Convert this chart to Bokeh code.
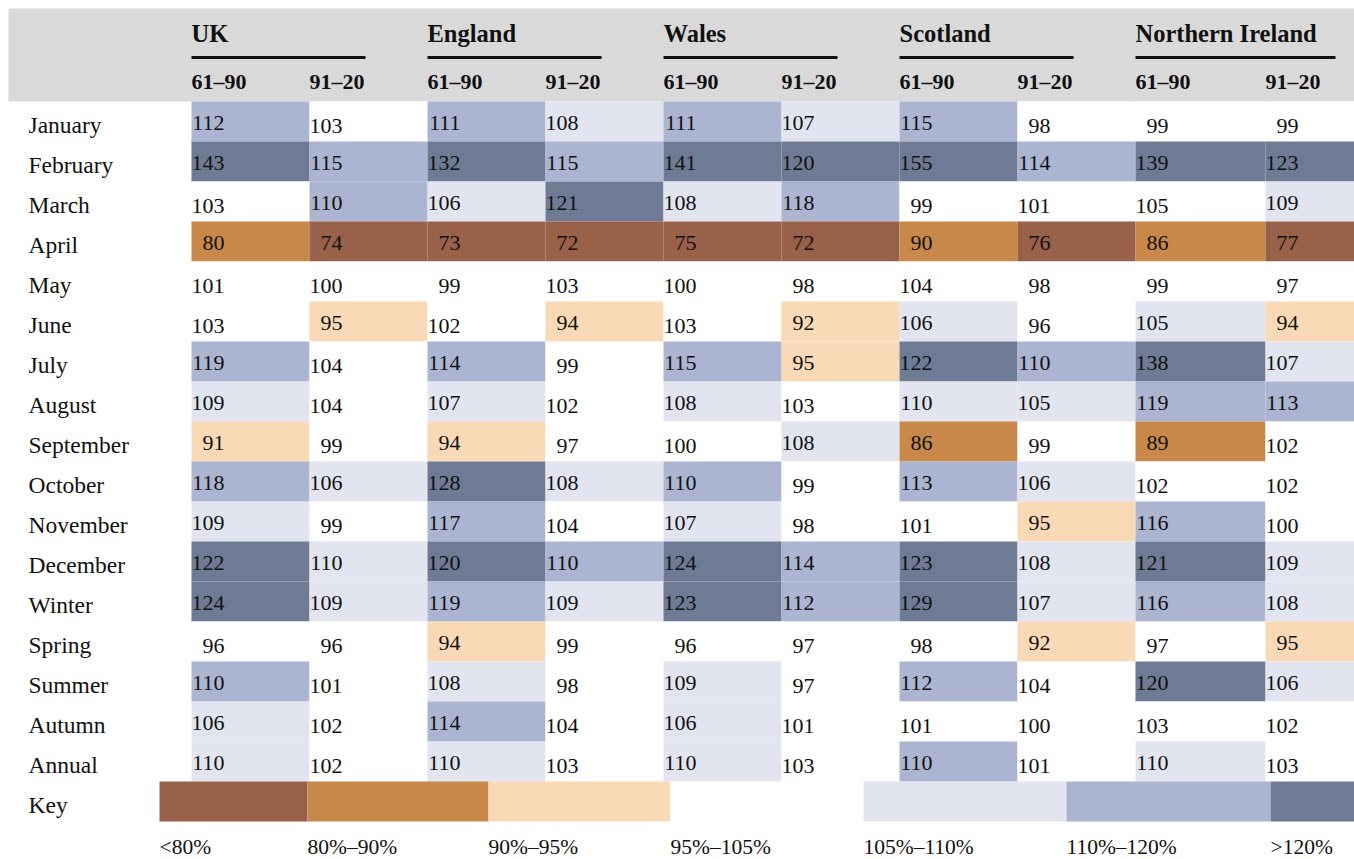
from bokeh.plotting import figure
from bokeh.models import ColumnDataSource, Range1d
from bokeh.embed import file_html
from bokeh.resources import INLINE
from bokeh.core.properties import value

# ---------------- data ----------------
rows = ["January", "February", "March", "April", "May", "June", "July", "August",
        "September", "October", "November", "December", "Winter", "Spring",
        "Summer", "Autumn", "Annual"]
regions = ["UK", "England", "Wales", "Scotland", "Northern Ireland"]
periods = ["61–90", "91–20"]

uk_6190 = [112, 143, 103, 80, 101, 103, 119, 109, 91, 118, 109, 122, 124, 96, 110, 106, 110]
uk_9120 = [103, 115, 110, 74, 100, 95, 104, 104, 99, 106, 99, 110, 109, 96, 101, 102, 102]
england_6190 = [111, 132, 106, 73, 99, 102, 114, 107, 94, 128, 117, 120, 119, 94, 108, 114, 110]
england_9120 = [108, 115, 121, 72, 103, 94, 99, 102, 97, 108, 104, 110, 109, 99, 98, 104, 103]
wales_6190 = [111, 141, 108, 75, 100, 103, 115, 108, 100, 110, 107, 124, 123, 96, 109, 106, 110]
wales_9120 = [107, 120, 118, 72, 98, 92, 95, 103, 108, 99, 98, 114, 112, 97, 97, 101, 103]
scotland_6190 = [115, 155, 99, 90, 104, 106, 122, 110, 86, 113, 101, 123, 129, 98, 112, 101, 110]
scotland_9120 = [98, 114, 101, 76, 98, 96, 110, 105, 99, 106, 95, 108, 107, 92, 104, 100, 101]
ni_6190 = [99, 139, 105, 86, 99, 105, 138, 119, 89, 102, 116, 121, 116, 97, 120, 103, 110]
ni_9120 = [99, 123, 109, 77, 97, 94, 107, 113, 102, 102, 100, 109, 108, 95, 106, 102, 103]

# colour band of each cell (index into key_labels), as shown in the chart
uk_6190_band = [5, 6, 3, 1, 3, 3, 5, 4, 2, 5, 4, 6, 6, 3, 5, 4, 4]
uk_9120_band = [3, 5, 5, 0, 3, 2, 3, 3, 3, 4, 3, 4, 4, 3, 3, 3, 3]
england_6190_band = [5, 6, 4, 0, 3, 3, 5, 4, 2, 6, 5, 6, 5, 2, 4, 5, 4]
england_9120_band = [4, 5, 6, 0, 3, 2, 3, 3, 3, 4, 3, 5, 4, 3, 3, 3, 3]
wales_6190_band = [5, 6, 4, 0, 3, 3, 5, 4, 3, 5, 4, 6, 6, 3, 4, 4, 4]
wales_9120_band = [4, 6, 5, 0, 3, 2, 2, 3, 4, 3, 3, 5, 5, 3, 3, 3, 3]
scotland_6190_band = [5, 6, 3, 1, 3, 4, 6, 4, 1, 5, 3, 6, 6, 3, 5, 3, 5]
scotland_9120_band = [3, 5, 3, 0, 3, 3, 5, 4, 3, 4, 2, 4, 4, 2, 3, 3, 3]
ni_6190_band = [3, 6, 3, 1, 3, 4, 6, 5, 1, 3, 5, 6, 5, 3, 6, 3, 4]
ni_9120_band = [3, 6, 4, 0, 3, 2, 4, 5, 3, 3, 3, 4, 4, 2, 4, 3, 3]

key_labels = ["<80%", "80%–90%", "90%–95%", "95%–105%", "105%–110%", "110%–120%", ">120%"]

# ---------------- styles / layout ----------------
band_colors = ["#99614A", "#C8884A", "#FAD9B7", "#FFFFFF", "#E2E4F0", "#ABB4D1", "#6F7B95"]
FONT = "Liberation Serif"
W, H = 1354, 859
col_widths = [118, 118, 118, 118, 118, 118, 118, 118, 130, 89]
first_col = 191
head_top = 8
row_top0 = 101
row_h = 40
label_x = 28
num_w = 33
line_len = [174, 174, 174, 174, 200]
key_edges = [159, 307, 488, 670, 863, 1066, 1270, 1354]

columns = [(uk_6190, uk_6190_band), (uk_9120, uk_9120_band),
           (england_6190, england_6190_band), (england_9120, england_9120_band),
           (wales_6190, wales_6190_band), (wales_9120, wales_9120_band),
           (scotland_6190, scotland_6190_band), (scotland_9120, scotland_9120_band),
           (ni_6190, ni_6190_band), (ni_9120, ni_9120_band)]

col_left = []
acc = first_col
for w in col_widths:
    col_left.append(acc)
    acc += w

p = figure(width=W, height=H, x_range=Range1d(0, W), y_range=Range1d(H, 0),
           output_backend="svg", toolbar_location=None, min_border=0)
p.axis.visible = False
p.grid.visible = False
p.outline_line_color = None
p.background_fill_color = "white"
p.border_fill_color = "white"

# header band
p.quad(left=[8], right=[W], top=[head_top], bottom=[row_top0], fill_color="#D9D9D9", line_color=None)

# cells
cl, cr, ct, cb, cc, tx, ty, tt = [], [], [], [], [], [], [], []
for ci, (vals, bands) in enumerate(columns):
    for ri, (v, b) in enumerate(zip(vals, bands)):
        top = row_top0 + ri * row_h
        cl.append(col_left[ci]); cr.append(col_left[ci] + col_widths[ci])
        ct.append(top); cb.append(top + row_h)
        cc.append(band_colors[b])
        tx.append(col_left[ci] + num_w)
        ty.append(top + row_h / 2 + (4 if b == 3 else 1.5))
        tt.append(str(v))
cells = ColumnDataSource(dict(left=cl, right=cr, top=ct, bottom=cb, color=cc))
p.quad(left="left", right="right", top="top", bottom="bottom", fill_color="color",
       line_color=None, source=cells)
p.text(x=tx, y=ty, text=tt, text_align="right", text_baseline="middle",
       text_font=value(FONT), text_font_size="22px", text_color="#111111")

# row labels
all_rows = rows + ["Key"]
p.text(x=[label_x] * len(all_rows),
       y=[row_top0 + i * row_h + row_h / 2 + 3.5 for i in range(len(all_rows))],
       text=all_rows, text_align="left", text_baseline="middle",
       text_font=value(FONT), text_font_size="23.5px", text_color="#111111")

# header texts
g_left = [col_left[2 * g] for g in range(5)]
p.text(x=g_left, y=[33] * 5, text=regions, text_align="left", text_baseline="middle",
       text_font=value(FONT), text_font_size="24.5px", text_font_style="bold", text_color="#111111")
p.segment(x0=g_left, x1=[g + l for g, l in zip(g_left, line_len)], y0=[57] * 5, y1=[57] * 5,
          line_color="#111111", line_width=3)
p.text(x=col_left, y=[81] * 10, text=periods * 5, text_align="left", text_baseline="middle",
       text_font=value(FONT), text_font_size="22px", text_font_style="bold", text_color="#111111")

# key
key_top = row_top0 + len(rows) * row_h
p.quad(left=key_edges[:-1], right=key_edges[1:], top=[key_top] * 7, bottom=[key_top + row_h] * 7,
       fill_color=band_colors, line_color=None)
p.text(x=key_edges[:-1], y=[key_top + row_h + 25] * 7, text=key_labels, text_align="left",
       text_baseline="middle", text_font=value(FONT), text_font_size="21.5px", text_color="#111111")

open("out.html", "w").write(file_html(p, INLINE))
